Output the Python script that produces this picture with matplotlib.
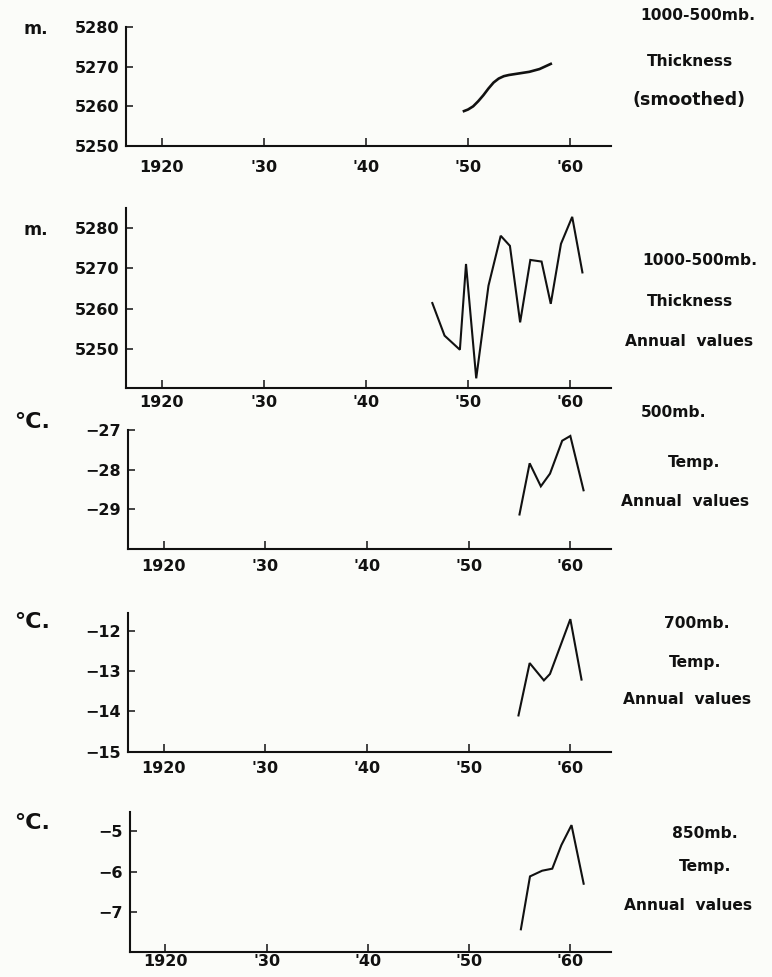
import matplotlib
matplotlib.use('Agg')
import matplotlib.pyplot as plt

# -------------------------------------------------
# Espessura 1000-500mb e temperaturas 500/700/850mb
# -------------------------------------------------

plt.rcParams['font.family'] = ['DejaVu Sans']
plt.rcParams['font.weight'] = 'bold'

# Espessura suavizada (m)
anos_suav = [1949.6, 1950.0, 1950.5, 1951.0, 1951.5, 1952.0, 1952.5, 1953.0,
             1953.5, 1954.0, 1955.0, 1956.0, 1957.0, 1958.1]
esp_suav = [5258.8, 5259.2, 5260.0, 5261.3, 5262.8, 5264.5, 5266.0, 5267.0,
            5267.6, 5267.9, 5268.3, 5268.7, 5269.4, 5270.7]

# Espessura anual (m)
anos_esp = [1946.5, 1947.7, 1949.2, 1949.8, 1950.8, 1952.0, 1953.2, 1954.1,
            1955.1, 1956.1, 1957.2, 1958.1, 1959.1, 1960.2, 1961.2]
esp_anual = [5261.4, 5253.3, 5249.8, 5271.1, 5242.7, 5265.7, 5278.1, 5275.6,
             5256.6, 5272.1, 5271.7, 5261.2, 5276.1, 5282.8, 5269.0]

# Temperatura 500mb (C)
anos_500 = [1955.0, 1956.0, 1957.1, 1958.0, 1959.2, 1960.0, 1961.3]
temp_500 = [-29.13, -27.84, -28.42, -28.10, -27.27, -27.15, -28.52]

# Temperatura 700mb (C)
anos_700 = [1954.9, 1956.0, 1957.4, 1958.0, 1960.0, 1961.1]
temp_700 = [-14.10, -12.80, -13.23, -13.07, -11.71, -13.21]

# Temperatura 850mb (C)
anos_850 = [1955.1, 1956.0, 1957.2, 1958.2, 1959.1, 1960.1, 1961.3]
temp_850 = [-7.42, -6.12, -5.98, -5.93, -5.35, -4.86, -6.30]

x_ticks = [1920, 1930, 1940, 1950, 1960]
x_labels = ['1920', "'30", "'40", "'50", "'60"]

y_ticks = [[5250, 5260, 5270, 5280],
           [5250, 5260, 5270, 5280],
           [-29, -28, -27],
           [-15, -14, -13, -12],
           [-7, -6, -5]]
y_lims = [(5250, 5280), (5240.3, 5285), (-30, -27), (-15, -11.55), (-7.97, -4.53)]
unidades = ['m.', 'm.', '°C.', '°C.', '°C.']

series = [(anos_suav, esp_suav), (anos_esp, esp_anual), (anos_500, temp_500),
          (anos_700, temp_700), (anos_850, temp_850)]

rotulos = [['1000-500mb.', 'Thickness', '(smoothed)'],
           ['1000-500mb.', 'Thickness', 'Annual  values'],
           ['500mb.', 'Temp.', 'Annual  values'],
           ['700mb.', 'Temp.', 'Annual  values'],
           ['850mb.', 'Temp.', 'Annual  values']]

W, H = 772, 977
# caixas em pixels: esquerda, topo, direita, base
caixas = [(126, 27, 611, 146), (126, 208, 611, 388), (128, 430, 611, 549),
          (128, 612.7, 611, 751.7), (130, 811.7, 611, 951.7)]
pad_x = [10, 5, 7, 7, 2]
unid_pos = [(36, 29), (36, 230), (32, 422), (32, 622), (32, 823)]
rot_pos = [[(698, 15), (690, 61), (689, 100)],
           [(700, 260), (690, 302), (689, 342)],
           [(674, 412), (694, 462), (685, 502)],
           [(697, 623), (695, 662), (687, 700)],
           [(705, 833), (705, 867), (688, 905)]]

fig = plt.figure(figsize=(W/100, H/100), dpi=100, facecolor='#fbfcf9')

for i in range(5):
    l, t, r, b = caixas[i]
    ax = fig.add_axes([l/W, 1 - b/H, (r - l)/W, (b - t)/H])
    ax.set_facecolor('none')
    anos, vals = series[i]
    lw = 1.9 if i == 0 else 1.5
    ax.plot(anos, vals, color='#111111', lw=lw, solid_joinstyle='miter')
    ax.set_xlim(1916.5, 1964)
    ax.set_ylim(*y_lims[i])
    ax.set_xticks(x_ticks)
    ax.set_xticklabels(x_labels)
    ax.set_yticks(y_ticks[i])
    ax.set_yticklabels([('−' + str(abs(v))) if v < 0 else str(v) for v in y_ticks[i]])
    for s in ['top', 'right']:
        ax.spines[s].set_visible(False)
    for s in ['left', 'bottom']:
        ax.spines[s].set_linewidth(1.5)
        ax.spines[s].set_color('#111111')
    ax.tick_params(axis='x', direction='in', length=6, width=1.1,
                   labelsize=11.5, pad=pad_x[i], colors='#111111')
    ax.tick_params(axis='y', direction='in', length=5, width=1.1,
                   labelsize=11.5, pad=5, colors='#111111')
    for lab in ax.get_xticklabels() + ax.get_yticklabels():
        lab.set_fontweight('bold')

    ux, uy = unid_pos[i]
    tam = 12.5 if unidades[i] == 'm.' else 16
    fig.text(ux/W, 1 - uy/H, unidades[i], ha='center', va='center',
             fontsize=tam, fontweight='bold', color='#111111')

    for txt, (px, py) in zip(rotulos[i], rot_pos[i]):
        tam = 12.5 if txt.startswith('(') else 11.2
        fig.text(px/W, 1 - py/H, txt, ha='center', va='center',
                 fontsize=tam, fontweight='bold', color='#111111')

fig.savefig('out.png', dpi=100, facecolor=fig.get_facecolor())
